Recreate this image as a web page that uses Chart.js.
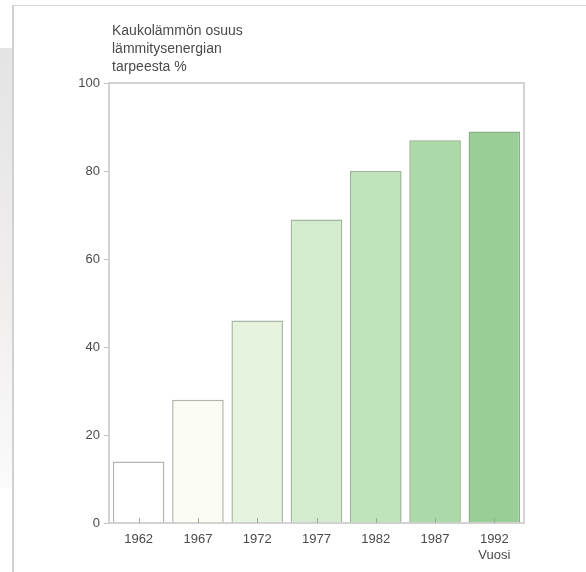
<!DOCTYPE html>
<html>
<head>
<meta charset="utf-8">
<script src="https://cdn.jsdelivr.net/npm/chart.js@4"></script>
<style>
  html, body { margin: 0; padding: 0; background: #fff; }
  #wrap { position: relative; width: 586px; height: 572px; overflow: hidden; }
  #frameTop { position: absolute; left: 12px; top: 5px; right: 0; height: 1px; background: #d6d6d6; }
  #frameLeft { position: absolute; left: 12px; top: 5px; bottom: 0; width: 2px; background: #d0d0d0; }
  #strip { position: absolute; left: 0; top: 48px; width: 12px; height: 440px;
           background: linear-gradient(to bottom, #e4e4e4, #f1eeee 60%, #fbfbfb); }
  canvas { position: absolute; left: 0; top: 0; }
</style>
</head>
<body>
<div id="wrap">
  <div id="strip"></div>
  <div id="frameTop"></div>
  <div id="frameLeft"></div>
  <canvas id="chart" width="586" height="572"></canvas>
</div>
<script>
// District heating share of heating energy demand, by year
const years = ['1962', '1967', '1972', '1977', '1982', '1987', '1992'];
const sharePercent = [14, 28, 46, 69, 80, 87, 89];
const yTicks = [0, 20, 40, 60, 80, 100];
const titleLines = ['Kaukolämmön osuus', 'lämmitysenergian', 'tarpeesta %'];
const axisUnit = 'Vuosi';

const barFills = ['#ffffff', '#fbfcf4', '#e6f4df', '#d3ecce', '#bfe3ba', '#abd9a7', '#99cf96'];
const barEdges = ['#b4b4b4', '#b0b4ac', '#a8b8a4', '#a0b89c', '#98b895', '#90b48d', '#88ae86'];

const FONT = '"Liberation Sans", Arial, Helvetica, sans-serif';
const TEXT = '#4a4a4a';

const extras = {
  id: 'extras',
  afterDatasetsDraw(chart) {
    const { ctx, chartArea: a } = chart;
    ctx.save();
    // box round the plot
    ctx.strokeStyle = '#c4c4c4';
    ctx.lineWidth = 1.5;
    ctx.strokeRect(a.left, a.top, a.right - a.left, a.bottom - a.top);
    // short inward ticks at the foot of each bar
    const xs = chart.scales.x;
    ctx.strokeStyle = '#9aa897';
    ctx.lineWidth = 1;
    xs.ticks.forEach((t, i) => {
      const px = Math.round(xs.getPixelForTick(i)) + 0.5;
      ctx.beginPath();
      ctx.moveTo(px, a.bottom);
      ctx.lineTo(px, a.bottom - 5);
      ctx.stroke();
    });
    // axis caption above the plot
    ctx.fillStyle = TEXT;
    ctx.font = '14px ' + FONT;
    ctx.textAlign = 'left';
    ctx.textBaseline = 'middle';
    titleLines.forEach((line, i) => ctx.fillText(line, a.left + 3, 31 + i * 18));
    ctx.restore();
  }
};

new Chart(document.getElementById('chart'), {
  type: 'bar',
  data: {
    labels: years.map((y, i) => i === years.length - 1 ? [y, axisUnit] : y),
    datasets: [{
      data: sharePercent,
      backgroundColor: barFills,
      borderColor: barEdges,
      borderWidth: 1.5,
      categoryPercentage: 1,
      barPercentage: 0.87
    }]
  },
  options: {
    responsive: false,
    animation: false,
    layout: { padding: { top: 83, right: 62, left: 0, bottom: 0 } },
    plugins: { legend: { display: false }, tooltip: { enabled: false } },
    scales: {
      x: {
        grid: { display: false, drawTicks: false },
        border: { display: false },
        ticks: { color: TEXT, font: { family: FONT, size: 13, lineHeight: 1.25 }, padding: 8, maxRotation: 0 },
        afterFit(s) { s.height = 49; }
      },
      y: {
        min: 0, max: 100,
        afterBuildTicks(s) { s.ticks = yTicks.map(v => ({ value: v })); },
        grid: { drawOnChartArea: false, tickLength: 5, color: '#c4c4c4' },
        border: { display: false },
        ticks: { color: TEXT, font: { family: FONT, size: 13 }, padding: 4 },
        afterFit(s) { s.width = 109; }
      }
    }
  },
  plugins: [extras]
});
</script>
</body>
</html>
